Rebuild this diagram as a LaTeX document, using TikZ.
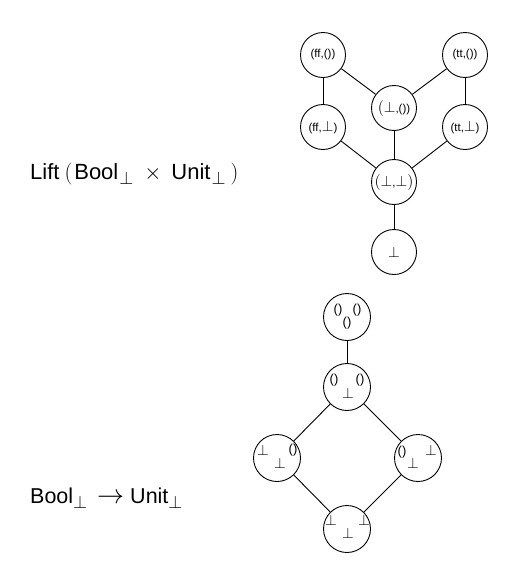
\RequirePackage{fix-cm}
\documentclass[tikz,border=0pt]{standalone}
\usepackage{fontspec}
\setmainfont{Liberation Sans}
\newcommand\nbot{{\fontsize{15}{15}\selectfont$\bot$}}
\newcommand\nlp{{\fontsize{16}{16}\selectfont$($}}
\newcommand\nrp{{\fontsize{16}{16}\selectfont$)$}}
\newcommand\subbot{\raisebox{-5.5pt}{\fontsize{18}{18}\selectfont$\bot$}}
\begin{document}
\begin{tikzpicture}[x=1pt,y=-1pt,
  elem/.style={draw,circle,line width=0.9pt,minimum size=45pt,inner sep=0pt,font=\fontsize{11.5}{13}\selectfont},
  fnode/.style={elem,minimum size=47pt},
  fel/.style={inner sep=0pt,font=\fontsize{13}{15}\selectfont},
  edge/.style={line width=0.9pt},
  lbl/.style={anchor=base west,inner sep=0pt,font=\fontsize{22}{26}\selectfont}]
\useasboundingbox (0,0) rectangle (504,568);
% top graph
\node[elem] (ffu) at (323,55) {(ff,())};
\node[elem] (ttu) at (465,55) {(tt,())};
\node[elem] (bu) at (394,108) {\nlp\nbot,())};
\node[elem] (ffb) at (323,127) {(ff,\nbot)};
\node[elem] (ttb) at (465,127) {(tt,\nbot)};
\node[elem] (bb) at (394,182) {\nlp\nbot,\nbot\nrp};
\node[elem] (b) at (394,252) {\nbot};
\draw[edge] (ffu) -- (ffb);
\draw[edge] (ffu) -- (bu);
\draw[edge] (ttu) -- (bu);
\draw[edge] (ttu) -- (ttb);
\draw[edge] (ffb) -- (bb);
\draw[edge] (bu) -- (bb);
\draw[edge] (ttb) -- (bb);
\draw[edge] (bb) -- (b);
\node[lbl] (l1) at (30,179) {Lift\hspace{5pt}$\bigl($\hspace{2pt}Bool\hspace{1pt}\subbot\hspace{11pt}$\times$\hspace{10pt}Unit\hspace{1pt}\subbot\hspace{5pt}$\bigr)$};
% bottom graph
\node[fnode] (f1) at (347,317) {};
\node[fnode] (f2) at (347,387) {};
\node[fnode] (f3) at (277,458) {};
\node[fnode] (f4) at (418,458) {};
\node[fnode] (f5) at (347,529) {};
\draw[edge] (f1) -- (f2);
\draw[edge] (f2) -- (f3);
\draw[edge] (f2) -- (f4);
\draw[edge] (f3) -- (f5);
\draw[edge] (f4) -- (f5);
% contents
\node[fel] (f1a) at (338,310) {()};
\node[fel] (f1b) at (357,310) {()};
\node[fel] (f1c) at (347,323) {()};
\node[fel] (f2a) at (334,380) {()};
\node[fel] (f2b) at (360,380) {()};
\node[fel] (f2c) at (348,393) {\nbot};
\node[fel] (f3a) at (263,450) {\nbot};
\node[fel] (f3b) at (293,450) {()};
\node[fel] (f3c) at (280,463) {\nbot};
\node[fel] (f4a) at (402,452) {()};
\node[fel] (f4b) at (431,450) {\nbot};
\node[fel] (f4c) at (413,463) {\nbot};
\node[fel] (f5a) at (331,520) {\nbot};
\node[fel] (f5b) at (364,520) {\nbot};
\node[fel] (f5c) at (348,533) {\nbot};
\node[lbl,font=\fontsize{21.5}{26}\selectfont] (l2) at (30,503) {Bool\subbot\hspace{10pt}{\fontsize{27}{27}\selectfont$\rightarrow$}\hspace{6pt}Unit\subbot};
\end{tikzpicture}
\end{document}
